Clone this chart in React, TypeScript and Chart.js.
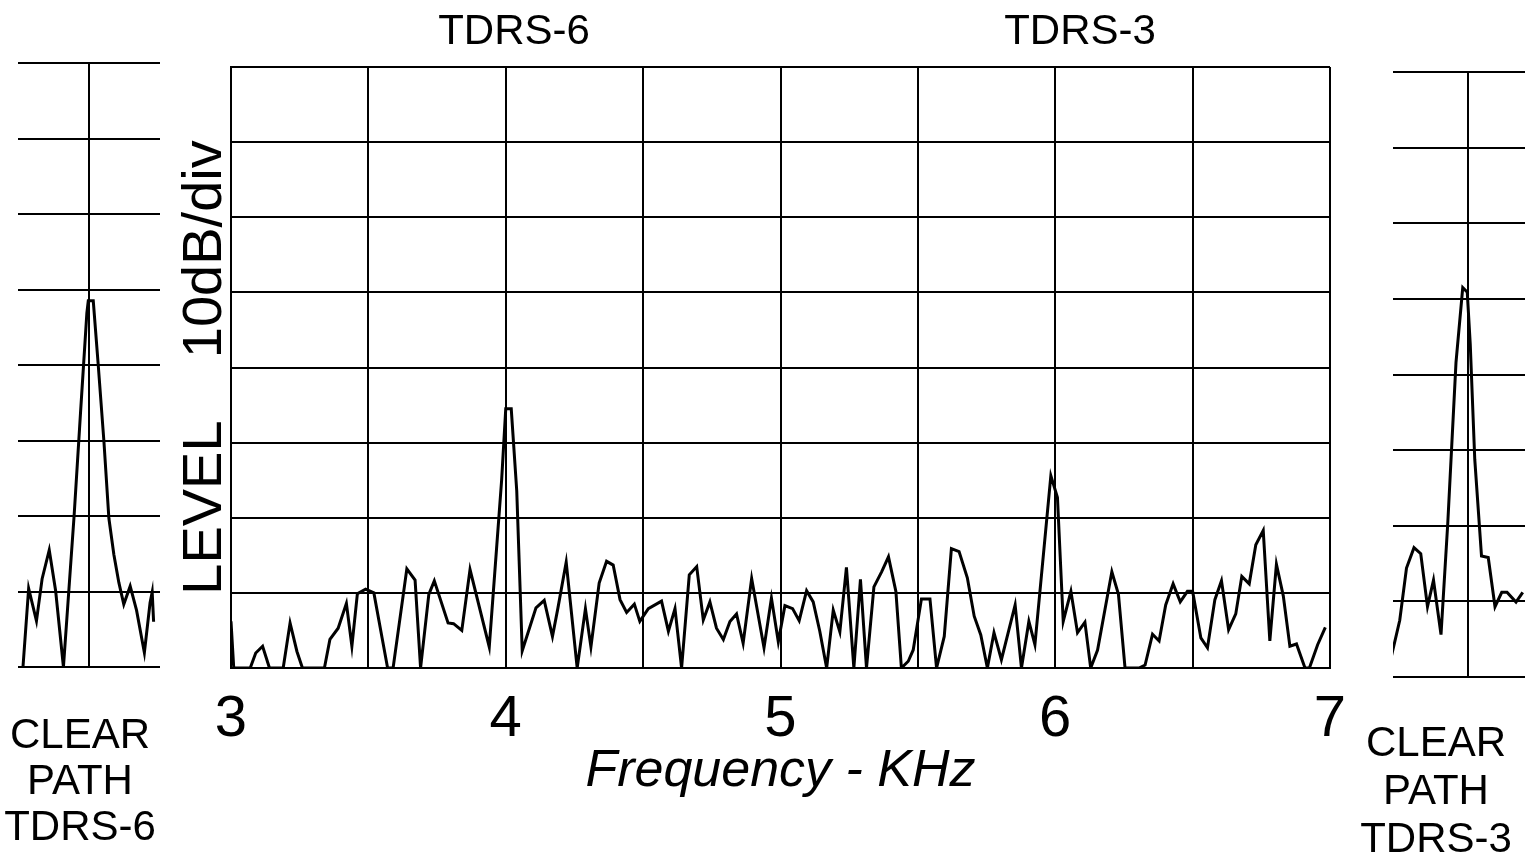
import React, { useEffect, useRef } from "react";
import { Chart, registerables } from "chart.js";

Chart.register(...registerables);

// ---------- DATA ----------
// Main spectrum: frequency (kHz) and level (divisions of 10 dB above floor)
const mainFreqs = [
  3.0, 3.01, 3.07, 3.09, 3.115, 3.14, 3.19, 3.215, 3.24, 3.26, 3.34, 3.36, 3.39, 3.42, 3.44, 3.46, 3.49, 3.52,
  3.55, 3.57, 3.59, 3.64, 3.67, 3.69, 3.72, 3.74, 3.79, 3.81, 3.84, 3.87, 3.94, 3.985, 4.0, 4.02, 4.04, 4.06,
  4.11, 4.14, 4.17, 4.19, 4.22, 4.26, 4.29, 4.31, 4.34, 4.367, 4.391, 4.416, 4.44, 4.468, 4.488, 4.519, 4.567,
  4.592, 4.616, 4.64, 4.668, 4.695, 4.719, 4.743, 4.767, 4.792, 4.816, 4.84, 4.864, 4.895, 4.94, 4.967, 4.992,
  5.016, 5.044, 5.068, 5.095, 5.119, 5.143, 5.168, 5.192, 5.216, 5.24, 5.267, 5.291, 5.313, 5.34, 5.368, 5.393,
  5.42, 5.44, 5.465, 5.483, 5.513, 5.544, 5.568, 5.596, 5.622, 5.65, 5.68, 5.705, 5.729, 5.753, 5.777, 5.804,
  5.854, 5.877, 5.904, 5.926, 5.984, 6.008, 6.029, 6.057, 6.081, 6.108, 6.129, 6.154, 6.206, 6.23, 6.254, 6.305,
  6.327, 6.354, 6.378, 6.402, 6.429, 6.455, 6.481, 6.5, 6.53, 6.554, 6.581, 6.605, 6.631, 6.657, 6.679, 6.706,
  6.73, 6.757, 6.781, 6.805, 6.83, 6.854, 6.878, 6.909, 6.925, 6.955, 6.983,
];
const mainLevels = [
  0.62, 0, 0, 0.2, 0.29, 0, 0, 0.6, 0.22, 0, 0, 0.38, 0.53, 0.86, 0.29, 0.99, 1.05, 1.0,
  0.4, 0, 0, 1.32, 1.17, 0, 0.98, 1.16, 0.6, 0.59, 0.5, 1.31, 0.28, 2.5, 3.45, 3.45, 2.36, 0.23,
  0.8, 0.9, 0.42, 0.8, 1.41, 0, 0.79, 0.28, 1.13, 1.42, 1.37, 0.91, 0.74, 0.85, 0.62, 0.79, 0.89,
  0.49, 0.79, 0, 1.24, 1.35, 0.64, 0.88, 0.53, 0.38, 0.62, 0.72, 0.33, 1.19, 0.27, 0.93, 0.35,
  0.83, 0.79, 0.63, 1.03, 0.88, 0.49, 0, 0.77, 0.48, 1.34, 0, 1.18, 0, 1.08, 1.28, 1.48,
  1.02, 0, 0.09, 0.24, 0.92, 0.92, 0, 0.42, 1.59, 1.55, 1.2, 0.69, 0.44, 0, 0.47, 0.11,
  0.84, 0, 0.62, 0.31, 2.56, 2.27, 0.62, 1.02, 0.47, 0.61, 0, 0.24, 1.28, 0.98, 0, 0,
  0.04, 0.45, 0.36, 0.84, 1.12, 0.88, 1.02, 1.02, 0.4, 0.27, 0.91, 1.16, 0.51, 0.72, 1.22, 1.12,
  1.64, 1.83, 0.36, 1.38, 0.96, 0.29, 0.32, 0, 0, 0.31, 0.54,
];

// Clear-path TDRS-6 (offset from carrier, level in divisions)
const leftOffsets = [
  -0.93, -0.85, -0.74, -0.66, -0.56, -0.47, -0.36, -0.21, -0.12, -0.03, -0.01, 0.06, 0.13, 0.21, 0.28, 0.35,
  0.42, 0.49, 0.58, 0.67, 0.78, 0.86, 0.89, 0.91,
];
const leftLevels = [
  0, 1.04, 0.61, 1.17, 1.55, 1.01, 0, 2.0, 3.36, 4.69, 4.85, 4.85, 4.0, 2.99, 1.97, 1.49,
  1.12, 0.83, 1.07, 0.75, 0.19, 0.85, 0.99, 0.6,
];

// Clear-path TDRS-3
const rightOffsets = [
  -1.02, -0.91, -0.82, -0.72, -0.63, -0.54, -0.46, -0.36, -0.27, -0.16, -0.07, -0.01, 0.03, 0.09, 0.18, 0.27,
  0.36, 0.45, 0.52, 0.64, 0.73,
];
const rightLevels = [
  0.28, 0.75, 1.44, 1.71, 1.63, 0.93, 1.28, 0.56, 2.03, 4.16, 5.15, 5.09, 4.4, 2.88, 1.6, 1.58,
  0.93, 1.12, 1.12, 0.99, 1.12,
];

const mainTickLabels = [3, 4, 5, 6, 7];
const peakLabels = ["TDRS-6", "TDRS-3"];
const peakLabelFreqs = [4.03, 6.09];
const xTitle = "Frequency - KHz";
const yTitle = "LEVEL    10dB/div";
const leftCaption = ["CLEAR", "PATH", "TDRS-6"];
const rightCaption = ["CLEAR", "PATH", "TDRS-3"];

const FONT = "'Liberation Sans', Arial, sans-serif";
const INK = "#000";

function makeMain(canvas: HTMLCanvasElement) {
  return new Chart(canvas, {
    type: "line",
    data: {
      datasets: [
        {
          data: mainFreqs.map((f, i) => ({ x: f, y: mainLevels[i] })),
          borderColor: INK,
          borderWidth: 3,
          pointRadius: 0,
          tension: 0,
          fill: false,
        },
      ],
    },
    options: {
      responsive: false,
      animation: false,
      devicePixelRatio: 1,
      layout: { padding: { left: 0, right: 40, top: 67, bottom: 0 } },
      plugins: { legend: { display: false }, tooltip: { enabled: false } },
      scales: {
        x: {
          type: "linear",
          min: 3,
          max: 7,
          afterFit: (s: any) => {
            s.height = 197;
          },
          ticks: {
            stepSize: 0.5,
            autoSkip: false,
            maxRotation: 0,
            padding: 23,
            color: INK,
            font: { family: FONT, size: 58, lineHeight: 1 },
            callback: (v: any) => (mainTickLabels.includes(Number(v)) ? String(v) : ""),
          },
          grid: { color: INK, lineWidth: 2, drawTicks: false },
          border: { color: INK, width: 2 },
          title: {
            display: true,
            text: xTitle,
            color: INK,
            font: { family: FONT, size: 52, style: "italic", lineHeight: 1 },
            padding: { top: 0, bottom: 67 },
          },
        },
        y: {
          type: "linear",
          min: 0,
          max: 8,
          afterFit: (s: any) => {
            s.width = 81;
          },
          ticks: { stepSize: 1, display: false },
          grid: { color: INK, lineWidth: 2, drawTicks: false },
          border: { color: INK, width: 2 },
          title: {
            display: true,
            text: yTitle,
            color: INK,
            font: { family: FONT, size: 56, lineHeight: 1 },
            padding: { top: 28, bottom: 0 },
          },
        },
      },
    },
    plugins: [
      {
        id: "peakLabels",
        afterDraw(chart: any) {
          const ctx = chart.ctx;
          const xs = chart.scales.x;
          ctx.save();
          ctx.fillStyle = INK;
          ctx.font = `42px ${FONT}`;
          ctx.textAlign = "center";
          ctx.textBaseline = "middle";
          peakLabels.forEach((t, i) => {
            ctx.fillText(t, xs.getPixelForValue(peakLabelFreqs[i]), 32);
          });
          ctx.restore();
        },
      },
    ],
  } as any);
}

function makeSide(
  canvas: HTMLCanvasElement,
  offsets: number[],
  levels: number[],
  pad: { left: number; right: number; top: number },
  bottomBox: number
) {
  return new Chart(canvas, {
    type: "line",
    data: {
      datasets: [
        {
          data: offsets.map((o, i) => ({ x: o, y: levels[i] })),
          borderColor: INK,
          borderWidth: 3,
          pointRadius: 0,
          tension: 0,
          fill: false,
        },
      ],
    },
    options: {
      responsive: false,
      animation: false,
      devicePixelRatio: 1,
      layout: { padding: { left: pad.left, right: pad.right, top: pad.top, bottom: 0 } },
      plugins: { legend: { display: false }, tooltip: { enabled: false } },
      scales: {
        x: {
          type: "linear",
          min: -1,
          max: 1,
          afterFit: (s: any) => {
            s.height = bottomBox;
          },
          ticks: { stepSize: 1, display: false },
          grid: {
            drawTicks: false,
            lineWidth: 2,
            color: (c: any) => (c.tick && c.tick.value === 0 ? INK : "rgba(0,0,0,0)"),
          },
          border: { display: false },
        },
        y: {
          type: "linear",
          min: 0,
          max: 8,
          afterFit: (s: any) => {
            s.width = 0;
          },
          ticks: { stepSize: 1, display: false },
          grid: { color: INK, lineWidth: 2, drawTicks: false },
          border: { display: false },
        },
      },
    },
  } as any);
}

export default function App() {
  const mainRef = useRef<HTMLCanvasElement>(null);
  const leftRef = useRef<HTMLCanvasElement>(null);
  const rightRef = useRef<HTMLCanvasElement>(null);

  useEffect(() => {
    const charts: Chart[] = [];
    if (mainRef.current) charts.push(makeMain(mainRef.current));
    if (leftRef.current) charts.push(makeSide(leftRef.current, leftOffsets, leftLevels, { left: 18, right: 40, top: 63 }, 33));
    if (rightRef.current) charts.push(makeSide(rightRef.current, rightOffsets, rightLevels, { left: 93, right: 57, top: 72 }, 23));
    return () => charts.forEach((c) => c.destroy());
  }, []);

  const capStyle = (left: number, top: number, lh: number): React.CSSProperties => ({
    position: "absolute",
    left,
    top,
    width: 170,
    textAlign: "center",
    fontFamily: FONT,
    fontSize: 42,
    lineHeight: `${lh}px`,
    color: INK,
  });

  return (
    <div
      style={{
        position: "fixed",
        left: 0,
        top: 0,
        width: 1525,
        height: 865,
        overflow: "hidden",
        background: "#fff",
      }}
    >
      <canvas ref={leftRef} width={200} height={700} style={{ position: "absolute", left: 0, top: 0, width: 200, height: 700 }} />
      <canvas ref={mainRef} width={1220} height={865} style={{ position: "absolute", left: 150, top: 0, width: 1220, height: 865 }} />
      <canvas ref={rightRef} width={300} height={700} style={{ position: "absolute", left: 1300, top: 0, width: 300, height: 700 }} />
      <div style={capStyle(-5, 711, 46)}>
        {leftCaption.map((t, i) => (
          <div key={i}>{t}</div>
        ))}
      </div>
      <div style={capStyle(1351, 718, 48)}>
        {rightCaption.map((t, i) => (
          <div key={i}>{t}</div>
        ))}
      </div>
    </div>
  );
}
